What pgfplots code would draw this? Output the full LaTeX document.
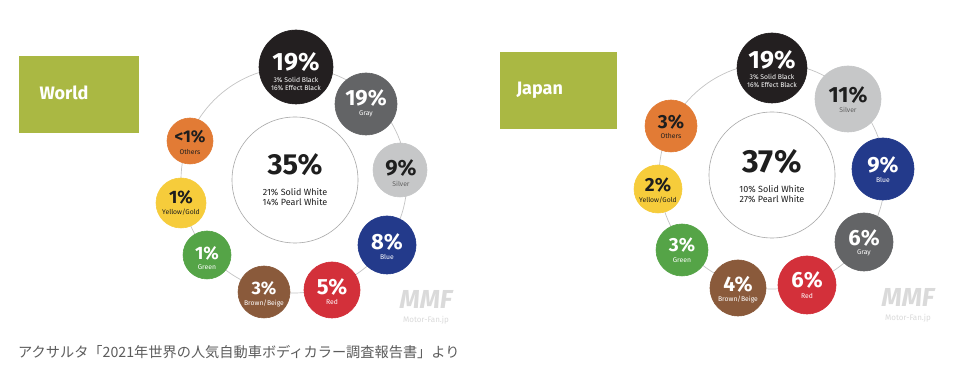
\documentclass[border=0pt]{standalone}
\usepackage{pgfplots}
\pgfplotsset{compat=1.18}
\usepackage{fontspec}
\setmainfont{Fira Sans}
\newfontfamily\jpfont{Noto Sans CJK JP}
\definecolor{cBk}{HTML}{231F20}
\definecolor{cGy}{HTML}{636466}
\definecolor{cSv}{HTML}{C6C7C8}
\definecolor{cBl}{HTML}{233A8B}
\definecolor{cRd}{HTML}{D3303A}
\definecolor{cBr}{HTML}{8A5A3B}
\definecolor{cGn}{HTML}{55A447}
\definecolor{cYl}{HTML}{F6CC3B}
\definecolor{cOr}{HTML}{E27B35}
\definecolor{cOl}{HTML}{AAB843}
\definecolor{cLine}{HTML}{A8A8A8}
\definecolor{cOrbit}{HTML}{C4C4C4}
\definecolor{cTxt}{HTML}{1E1E1E}
\definecolor{cFoot}{HTML}{5C5C5C}
\definecolor{cWm}{HTML}{DADADA}
\newcommand\pf[1]{\fontsize{#1}{#1}\selectfont\bfseries}
\newcommand\nf{\fontsize{6.8}{8.4}\selectfont}
\newcommand\cf{\fontsize{9}{10.5}\selectfont}
\begin{document}
\begin{tikzpicture}
\begin{axis}[
  set layers=standard,
  x=1pt, y=1pt, xmin=0, xmax=962, ymin=0, ymax=380, y dir=reverse,
  hide axis, clip=false,
  bubble/.style={scatter, only marks, mark=*, line width=0.6pt,
    visualization depends on={\thisrow{r} \as \rad},
    scatter/@pre marker code/.code={\scope[mark size=\rad]},
    scatter/@post marker code/.code={\endscope}},
]
\begin{pgfonlayer}{axis background}
\fill[white] (axis cs:0,0) rectangle (axis cs:962,380);
% title boxes
\fill[cOl] (axis cs:19,56) rectangle (axis cs:139,133);
\fill[cOl] (axis cs:500,52) rectangle (axis cs:617,129);
% orbits
\draw[cOrbit, line width=0.7pt] (axis cs:294,180) circle [radius=113pt];
\draw[cOrbit, line width=0.7pt] (axis cs:772,176) circle [radius=113pt];
\end{pgfonlayer}
% bubbles: x y radius, value in %; first row World, second row Japan
\addplot[bubble, fill=white, draw=cLine] table {
x y r v
295 180 63 35
772 175 63 37
};
\addplot[bubble, fill=cBk, draw=cBk] table {
x y r v
296 67 37 19
772 68 35 19
};
\addplot[bubble, fill=cGy, draw=cGy] table {
x y r v
366 104 31 19
864 242 29 6
};
\addplot[bubble, fill=cSv, draw=cSv] table {
x y r v
400 170 27 9
848 99 33 11
};
\addplot[bubble, fill=cBl, draw=cBl] table {
x y r v
387 245 29 8
883 169 31 9
};
\addplot[bubble, fill=cRd, draw=cRd] table {
x y r v
332 290 28 5
807 285 29 6
};
\addplot[bubble, fill=cBr, draw=cBr] table {
x y r v
264 292 26 3
738 288 28 4
};
\addplot[bubble, fill=cGn, draw=cGn] table {
x y r v
207 255 24 1
682 250 26 3
};
\addplot[bubble, fill=cYl, draw=cYl] table {
x y r v
181 203 25 1
658 189 24 2
};
\addplot[bubble, fill=cOr, draw=cOr] table {
x y r v
190 141 23 0.5
671 126 26 3
};
\begin{pgfonlayer}{axis foreground}
\node[anchor=west, text=white, font=\fontsize{18}{18}\selectfont\bfseries] at (axis cs:36,93) {World};
\node[anchor=west, text=white, font=\fontsize{18}{18}\selectfont\bfseries] at (axis cs:513,90) {Japan};
% ---- World labels
\node[text=cTxt, font=\pf{29}, inner sep=0] at (axis cs:295,165) {35\%};
\node[text=cTxt, font=\cf, align=center, inner sep=0] at (axis cs:295,197) {21\% Solid White\\14\% Pearl White};
\node[text=white, font=\pf{25}, inner sep=0] at (axis cs:296,62) {19\%};
\node[text=white, font=\nf, align=center, inner sep=0] at (axis cs:296,84) {3\% Solid Black\\16\% Effect Black};
\node[text=white, font=\pf{22}, inner sep=0] at (axis cs:366,98) {19\%};
\node[text=white, font=\nf, inner sep=0] at (axis cs:366,114) {Gray};
\node[text=cTxt, font=\pf{22}, inner sep=0] at (axis cs:401,168) {9\%};
\node[text=cTxt!70, font=\nf, inner sep=0] at (axis cs:401,184) {Silver};
\node[text=white, font=\pf{22}, inner sep=0] at (axis cs:387,242) {8\%};
\node[text=white, font=\nf, inner sep=0] at (axis cs:387,257) {Blue};
\node[text=white, font=\pf{22}, inner sep=0] at (axis cs:332,287) {5\%};
\node[text=white, font=\nf, inner sep=0] at (axis cs:332,302) {Red};
\node[text=white, font=\pf{18}, inner sep=0] at (axis cs:264,288) {3\%};
\node[text=white, font=\nf, inner sep=0] at (axis cs:264,303) {Brown/Beige};
\node[text=white, font=\pf{18}, inner sep=0] at (axis cs:207,253) {1\%};
\node[text=white, font=\nf, inner sep=0] at (axis cs:207,267) {Green};
\node[text=cTxt, font=\pf{18}, inner sep=0] at (axis cs:181,197) {1\%};
\node[text=cTxt, font=\nf, inner sep=0] at (axis cs:181,212) {Yellow/Gold};
\node[text=cTxt, font=\pf{17}, inner sep=0] at (axis cs:190,137) {<1\%};
\node[text=cTxt, font=\nf, inner sep=0] at (axis cs:190,152) {Others};
% ---- Japan labels
\node[text=cTxt, font=\pf{32}, inner sep=0] at (axis cs:772,162) {37\%};
\node[text=cTxt, font=\cf, align=center, inner sep=0] at (axis cs:772,194) {10\% Solid White\\27\% Pearl White};
\node[text=white, font=\pf{25}, inner sep=0] at (axis cs:772,60) {19\%};
\node[text=white, font=\nf, align=center, inner sep=0] at (axis cs:772,81) {3\% Solid Black\\16\% Effect Black};
\node[text=cTxt, font=\pf{22}, inner sep=0] at (axis cs:848,95) {11\%};
\node[text=cTxt!70, font=\nf, inner sep=0] at (axis cs:848,110) {Silver};
\node[text=white, font=\pf{22}, inner sep=0] at (axis cs:883,165) {9\%};
\node[text=white, font=\nf, inner sep=0] at (axis cs:883,180) {Blue};
\node[text=white, font=\pf{22}, inner sep=0] at (axis cs:864,238) {6\%};
\node[text=white, font=\nf, inner sep=0] at (axis cs:864,253) {Gray};
\node[text=white, font=\pf{22}, inner sep=0] at (axis cs:807,280) {6\%};
\node[text=white, font=\nf, inner sep=0] at (axis cs:807,296) {Red};
\node[text=white, font=\pf{21}, inner sep=0] at (axis cs:738,284) {4\%};
\node[text=white, font=\nf, inner sep=0] at (axis cs:738,299) {Brown/Beige};
\node[text=white, font=\pf{19}, inner sep=0] at (axis cs:682,245) {3\%};
\node[text=white, font=\nf, inner sep=0] at (axis cs:682,260) {Green};
\node[text=cTxt, font=\pf{19}, inner sep=0] at (axis cs:658,185) {2\%};
\node[text=cTxt, font=\nf, inner sep=0] at (axis cs:658,200) {Yellow/Gold};
\node[text=cTxt, font=\pf{19}, inner sep=0] at (axis cs:671,122) {3\%};
\node[text=cTxt, font=\nf, inner sep=0] at (axis cs:671,136) {Others};
% watermarks
\node[text=cWm, font=\fontsize{26}{26}\selectfont\bfseries\itshape, inner sep=0] at (axis cs:426,299) {MMF};
\node[text=cWm, font=\fontsize{8}{8}\selectfont, inner sep=0] at (axis cs:426,320) {Motor-Fan.jp};
\node[text=cWm, font=\fontsize{26}{26}\selectfont\bfseries\itshape, inner sep=0] at (axis cs:908,297) {MMF};
\node[text=cWm, font=\fontsize{8}{8}\selectfont, inner sep=0] at (axis cs:908,318) {Motor-Fan.jp};
% footer
\node[anchor=west, text=cFoot, font=\jpfont\fontsize{14.2}{14.2}\selectfont, inner sep=0] at (axis cs:18,352) {アクサルタ「2021年世界の人気自動車ボディカラー調査報告書」より};
\end{pgfonlayer}
\end{axis}
\end{tikzpicture}
\end{document}
